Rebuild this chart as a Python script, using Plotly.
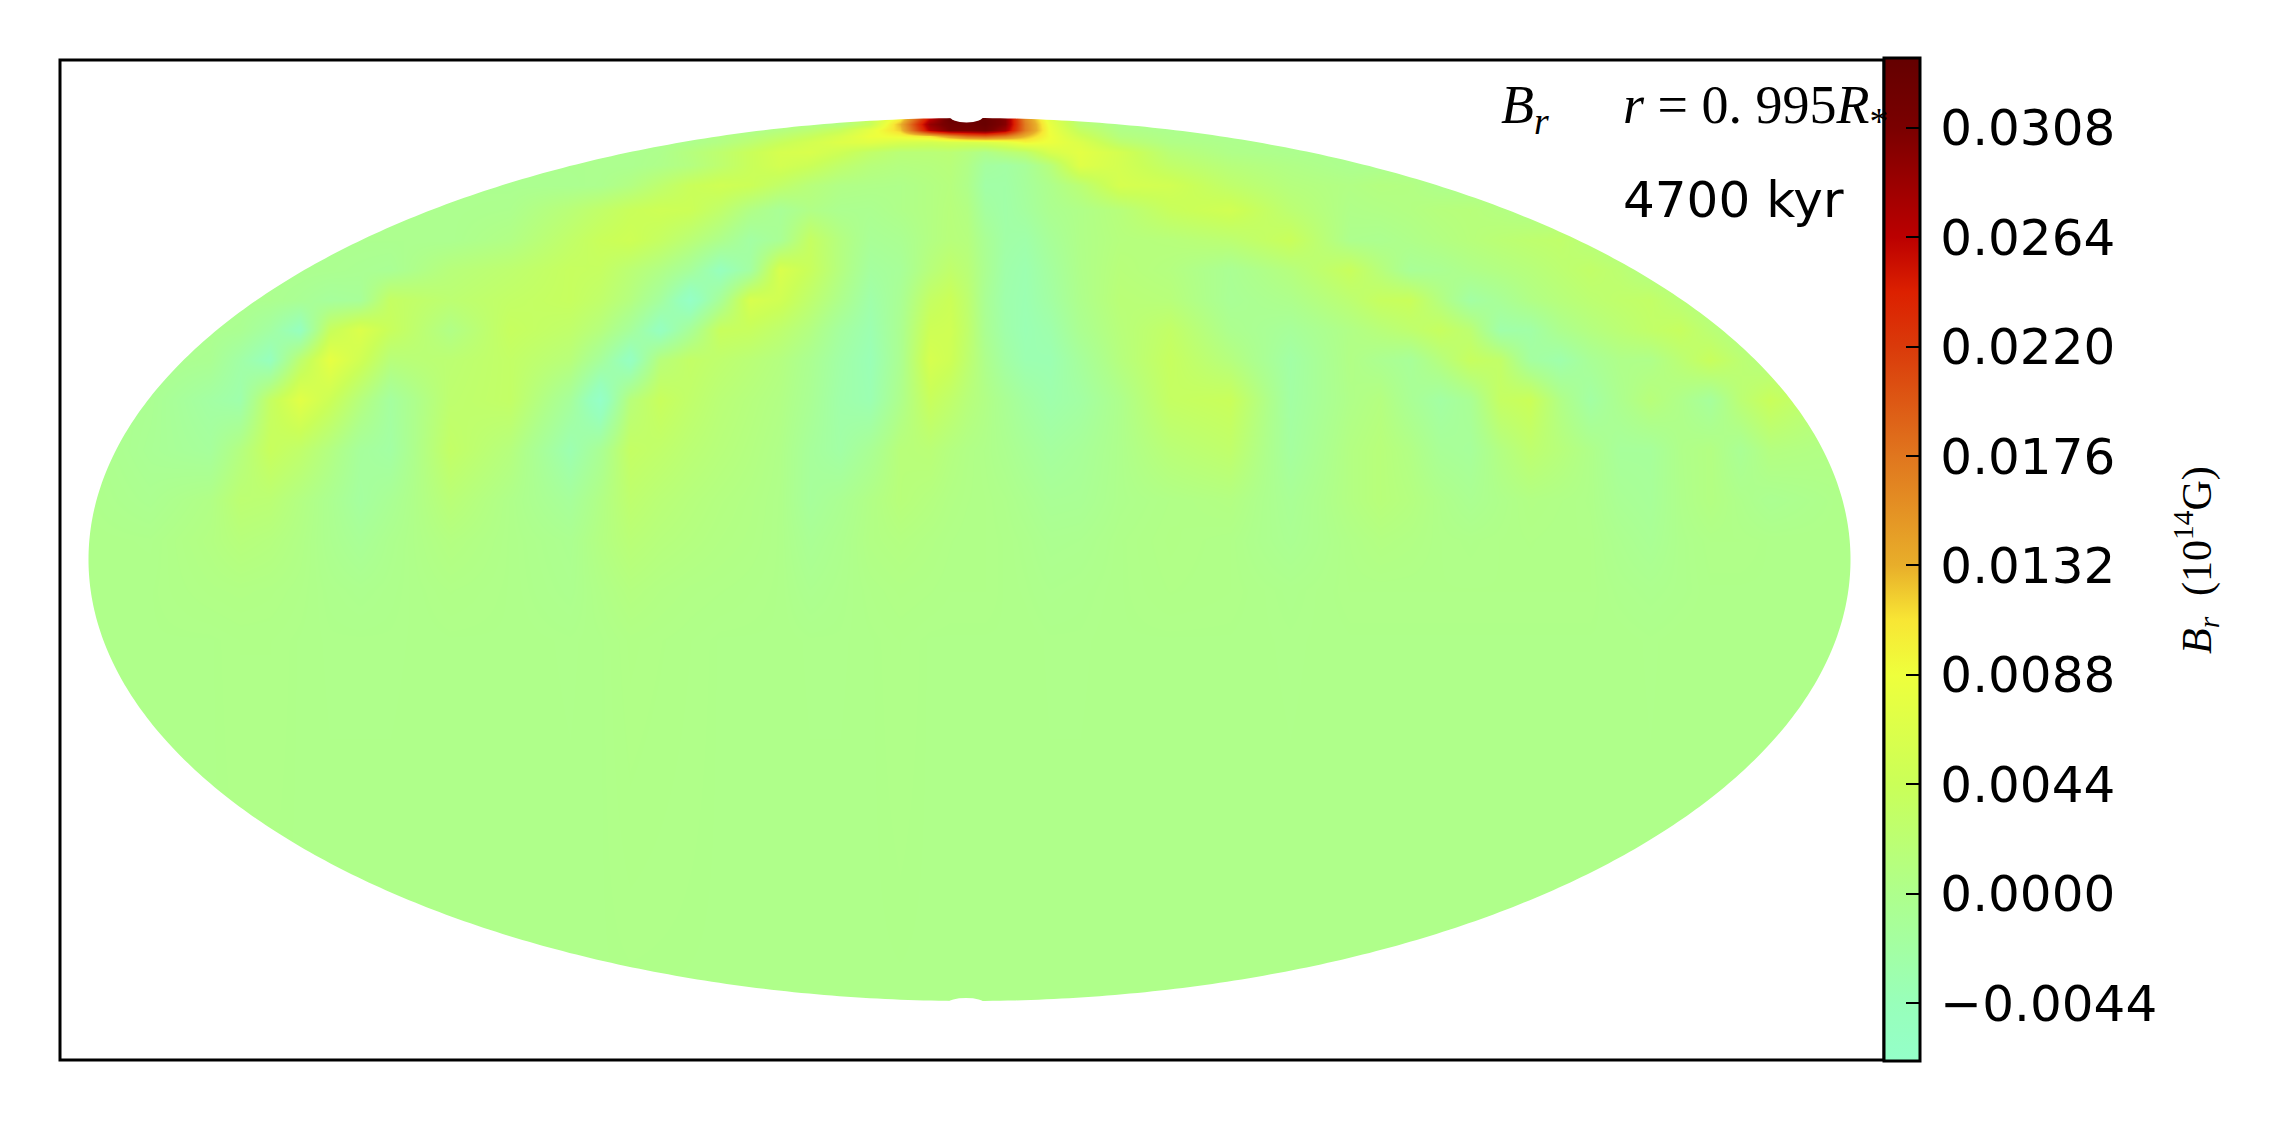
import numpy as np
import plotly.graph_objects as go

# Radial field on a grid of image columns/rows, units of 1e-4 (x 10^14 G)
GRID_Y = [118,124,130,136,142,152,165,185,210,240,270,300,330,360,400,450,500,540,590,640,1005]
GRID_X_WEST = [90,150,210,240,270, 300,330,360,390,450, 510,570,600,630,660, 690,720,750,780,810,
               840,870,900,930,950, 967,985,1005,1025,1050, 1080,1120,1170,1230,1290]
GRID_X_EAST = [1350,1380,1410,1440,1470,1500,1530,1560,1590,1620,1650,1680,1710,1740,1770,1850]
BR_WEST_1E4 = [
 [-3,-3,-3,-3,-3, -3,-3,-3,-3,-3, -3,-3,-3,-3,-3, -3,-3,-3,-3,-3, 10,40,100,260,330, 330,330,300,160,70, 15,0,-3,-3,-3],
 [-3,-3,-3,-3,-3, -3,-3,-3,-3,-3, -3,-3,-3,-3,-3, -3,-3,-3,0,5, 10,40,130,290,320, 320,330,300,170,80, 20,0,-3,-3,-3],
 [-3,-3,-3,-3,-3, -3,-3,-3,-3,-3, -3,-3,-3,-3,-3, -3,-3,0,10,22, 40,78,120,270,310, 310,320,280,170,85, 35,5,-2,-3,-3],
 [-3,-3,-3,-3,-3, -3,-3,-3,-3,-3, -3,-3,-3,-3,-3, -3,5,12,25,40, 60,85,92,110,150, 180,190,170,130,88, 50,12,2,-3,-3],
 [-3,-3,-3,-3,-3, -3,-3,-3,-3,-3, -3,-3,-3,-3,-3, 0,8,22,40,55, 68,72,60,55,60, 60,65,75,95,85, 65,25,5,0,-3],
 [-3,-3,-3,-3,-3, -3,-3,-3,-3,-3, -3,-3,-3,-3,0, 12,25,42,58,62, 48,30,18,18,20, 12,2,15,25,60, 75,55,18,3,-2],
 [-3,-3,-3,-3,-3, -3,-3,-3,-3,-3, -3,-3,-3,-3,2, 10,25,42,55,45, 28,15,10,12,15, 5,-18,-22,-12,15, 70,55,30,14,5],
 [-3,-3,-3,-3,-3, -3,-3,-3,-3,-3, -4,-4,-2,8,25, 42,50,45,30,15, 5,3,2,8,12, 2,-25,-25,-15,0, 20,58,52,28,12],
 [-3,-3,-3,-3,-3, -3,-3,-3,-3,-3, -1,18,30,42,48, 45,28,5,-10,5, -3,-4,2,8,14, 8,-18,-26,-18,-4, 3,15,40,52,22],
 [-3,-3,-3,-3,-3, -3,-3,-3,-3,-3, 6,30,42,48,35, 18,0,-22,-8,36, 10,-10,-6,8,15, 12,-8,-25,-28,-12, 3,12,14,22,42],
 [-3,-3,-3,-3,-3, -3,-4,-6,-8,15, 25,38,36,20,5, -15,-48,-20,62,40, 10,-18,-12,15,28, 18,-5,-28,-34,-18, 2,15,10,-7,12],
 [-2,-2,-2,-2,-3, -8,-15,-12,35,22, 32,38,28,10,-18, -62,-10,60,50,25, 0,-28,-8,35,45, 25,-8,-30,-36,-22, 0,18,15,-9,0],
 [-1,-2,-3,-6,-22, -50,40,65,40,5, 38,28,12,-15,-52, -10,40,38,25,8, -18,-35,-5,48,50, 28,-6,-28,-38,-30, -5,15,32,-2,-14],
 [-1,-2,-6,-25,-48, 25,78,50,15,22, 32,15,-15,-55,15, 32,25,18,10,-5, -25,-40,-5,58,48, 25,0,-22,-35,-36, -15,12,38,12,-24],
 [-1,-6,-22,-30,35, 72,45,12,-18,25, 32,-15,-65,15,40, 28,18,12,6,-8, -28,-36,0,40,28, 15,5,-8,-20,-30, -22,0,35,42,-22],
 [0,-8,-15,10,40, 28,8,-15,-22,32, 12,-35,-8,34,28, 20,14,9,3,-14, -24,-8,15,18,10, 5,2,-3,-10,-18, -12,0,18,28,-18],
 [1,-4,5,22,20, 8,-4,-18,-8,18, 2,-14,5,25,18, 13,9,6,2,-14, -6,5,15,10,6, 4,3,1,-3,-9, -8,0,4,8,-9],
 [2,1,8,14,11, 5,-3,-10,-2,9, 2,-4,8,18,13, 10,7,5,2,-8, -2,6,9,6,4, 3,3,2,0,-4, -3,2,5,3,-6],
 [2,2,5,6,5, 3,0,-2,0,4, 2,-2,4,10,7, 5,4,3,2,-3, 0,3,5,4,3, 3,3,2,1,-1, 0,2,4,3,0],
 [2,2,2,3,3, 2,1,1,1,2, 2,1,2,5,4, 3,2,2,2,1, 1,2,3,2,2, 2,2,2,2,1, 1,2,2,2,1],
 [2,2,2,2,2, 2,2,2,2,2, 2,2,2,2,2, 2,2,2,2,2, 2,2,2,2,2, 2,2,2,2,2, 2,2,2,2,2],
]
BR_EAST_1E4 = [
 [-3,-3,-3,-3,-3,-3,-3,-3,-3,-3,-3,-3,-3,-3,-3,-3],
 [-3,-3,-3,-3,-3,-3,-3,-3,-3,-3,-3,-3,-3,-3,-3,-3],
 [-3,-3,-3,-3,-3,-3,-3,-3,-3,-3,-3,-3,-3,-3,-3,-3],
 [-3,-3,-3,-3,-3,-3,-3,-3,-3,-3,-3,-3,-3,-3,-3,-3],
 [-3,-3,-3,-3,-3,-3,-3,-3,-3,-3,-3,-3,-3,-3,-3,-3],
 [-3,-3,-3,-3,-3,-3,-3,-3,-3,-3,-3,-3,-3,-3,-3,-3],
 [-3,-3,-3,-3,-3,-3,-3,-3,-3,-3,-3,-3,-3,-3,-3,-3],
 [6,10,8,0,-3,-3,-3,-3,-3,-3,-3,-3,-3,-3,-3,-3],
 [3,5,8,13,15,10,3,-1,-3,-3,-3,-3,-3,-3,-3,-3],
 [-1,-3,2,8,14,20,25,28,15,2,-2,-2,-2,-2,-2,-2],
 [40,15,-10,-6,2,8,14,22,30,22,6,-2,-2,-2,-2,-2],
 [22,38,42,10,-22,-10,5,14,22,28,32,18,4,-1,-1,-1],
 [5,15,25,38,22,-28,-25,-2,10,20,30,38,20,5,1,0],
 [5,-4,-12,12,38,30,-18,-30,-10,2,2,20,40,22,8,1],
 [3,10,-8,-22,-8,35,44,5,-22,-2,15,2,-15,20,42,3],
 [8,15,6,-10,-14,8,25,14,2,-14,-14,2,8,-8,10,4],
 [8,15,10,2,-5,1,6,4,2,-8,-12,1,8,1,-5,3],
 [4,8,6,3,2,3,4,3,3,-3,-8,0,3,3,2,2],
 [3,3,3,3,3,3,3,3,3,0,-2,0,2,2,2,2],
 [2,2,2,2,2,2,2,2,2,2,1,2,2,2,2,2],
 [2,2,2,2,2,2,2,2,2,2,2,2,2,2,2,2],
]
TICK_VALUES = [-0.0044, 0.0, 0.0044, 0.0088, 0.0132, 0.0176, 0.0220, 0.0264, 0.0308]
TICK_LABELS = ["\u22120.0044", "0.0000", "0.0044", "0.0088", "0.0132", "0.0176", "0.0220", "0.0264", "0.0308"]
Z_MIN, Z_MAX = -0.00672, 0.0336
COLOR_VALUES = [Z_MIN, -0.0044, 0.0, 0.0044, 0.0088, 0.0110, 0.0132, 0.0176, 0.0220, 0.0242, 0.0264, 0.0308, Z_MAX]
COLOR_HEX = ["#94FFC9", "#98FFBA", "#AEFF8C", "#CAFF58", "#EEFF3C", "#F8E634", "#E8AE2A", "#E0761E",
             "#DA3A0A", "#DC2000", "#BB0000", "#7A0000", "#640000"]

PAGE_W, PAGE_H = 2282, 1122
BODY = 8  # the page's default body margin offsets the figure
W, H = PAGE_W - 2 * BODY, PAGE_H - 2 * BODY
LEFT, RIGHT, TOP, BOTTOM = 60, 1884, 60, 1060
CX, CY, RX, RY = 969.5, 559.5, 881, 441.5

colorscale = [[(v - Z_MIN) / (Z_MAX - Z_MIN), c] for v, c in zip(COLOR_VALUES, COLOR_HEX)]
z = np.hstack([np.array(BR_WEST_1E4, dtype=float), np.array(BR_EAST_1E4, dtype=float)]) * 1e-4

heat = go.Heatmap(
    x=GRID_X_WEST + GRID_X_EAST, y=GRID_Y, z=z,
    zmin=Z_MIN, zmax=Z_MAX, zsmooth="best", colorscale=colorscale,
    colorbar=dict(
        x=1.0, xanchor="left", xpad=0,
        y=1.002, yanchor="top", ypad=0,
        lenmode="pixels", len=1003,
        thicknessmode="pixels", thickness=36,
        outlinecolor="black", outlinewidth=3,
        tickmode="array", tickvals=TICK_VALUES, ticktext=["\u2006" + s for s in TICK_LABELS],
        ticks="inside", ticklen=15, tickwidth=2, tickcolor="black",
        tickfont=dict(family="DejaVu Sans", size=50, color="black"),
    ),
    hoverinfo="skip",
)

t = np.linspace(0, 2 * np.pi, 721)[:-1]
ell = " ".join(("M" if i == 0 else "L") + f"{CX + RX * np.cos(a):.2f},{CY + RY * np.sin(a):.2f}" for i, a in enumerate(t))
mask = f"M{LEFT},{TOP} L{RIGHT},{TOP} L{RIGHT},{BOTTOM} L{LEFT},{BOTTOM} Z {ell} Z"

fig = go.Figure(heat)
fig.update_layout(
    width=W, height=H, autosize=False,
    margin=dict(l=LEFT - BODY, r=W - (RIGHT - BODY), t=TOP - BODY, b=H - (BOTTOM - BODY), pad=0, autoexpand=False),
    paper_bgcolor="white", plot_bgcolor="white",
    font=dict(family="DejaVu Sans", color="black"),
    xaxis=dict(range=[LEFT, RIGHT], showgrid=False, zeroline=False, showticklabels=False, ticks=""),
    yaxis=dict(range=[BOTTOM, TOP], showgrid=False, zeroline=False, showticklabels=False, ticks=""),
    shapes=[
        dict(type="path", path=mask, fillcolor="white", line=dict(width=0), layer="above", fillrule="evenodd"),
        dict(type="circle", x0=949, x1=984, y0=108, y1=122.5, fillcolor="white", line=dict(width=0), layer="above"),
        dict(type="circle", x0=948, x1=984, y0=998, y1=1008, fillcolor="white", line=dict(width=0), layer="above"),
        dict(type="rect", xref="paper", yref="paper", x0=0, x1=1, y0=0, y1=1,
             line=dict(color="black", width=3), layer="above"),
    ],
)

def note(x, y, text, family, size, angle=0, anchor="left"):
    fig.add_annotation(x=(x - LEFT) / (RIGHT - LEFT), y=(BOTTOM - y) / (BOTTOM - TOP),
                       xref="paper", yref="paper", xanchor=anchor, yanchor="middle",
                       text=text, textangle=angle, showarrow=False,
                       font=dict(family=family, size=size, color="black"))

note(1499, 108, "<i>B</i><sub><i>r</i></sub>", "Liberation Serif", 54)
note(1621, 108, "<i>r</i> = 0. 995<i>R</i><sub>*</sub>", "Liberation Serif", 54)
note(1621, 200, "4700 kyr", "DejaVu Sans", 50)
note(2196, 560, "<i>B</i><sub><i>r</i></sub>  (10<sup>14</sup>G)", "Liberation Serif", 42, angle=-90, anchor="center")

fig.write_html("out.html")
